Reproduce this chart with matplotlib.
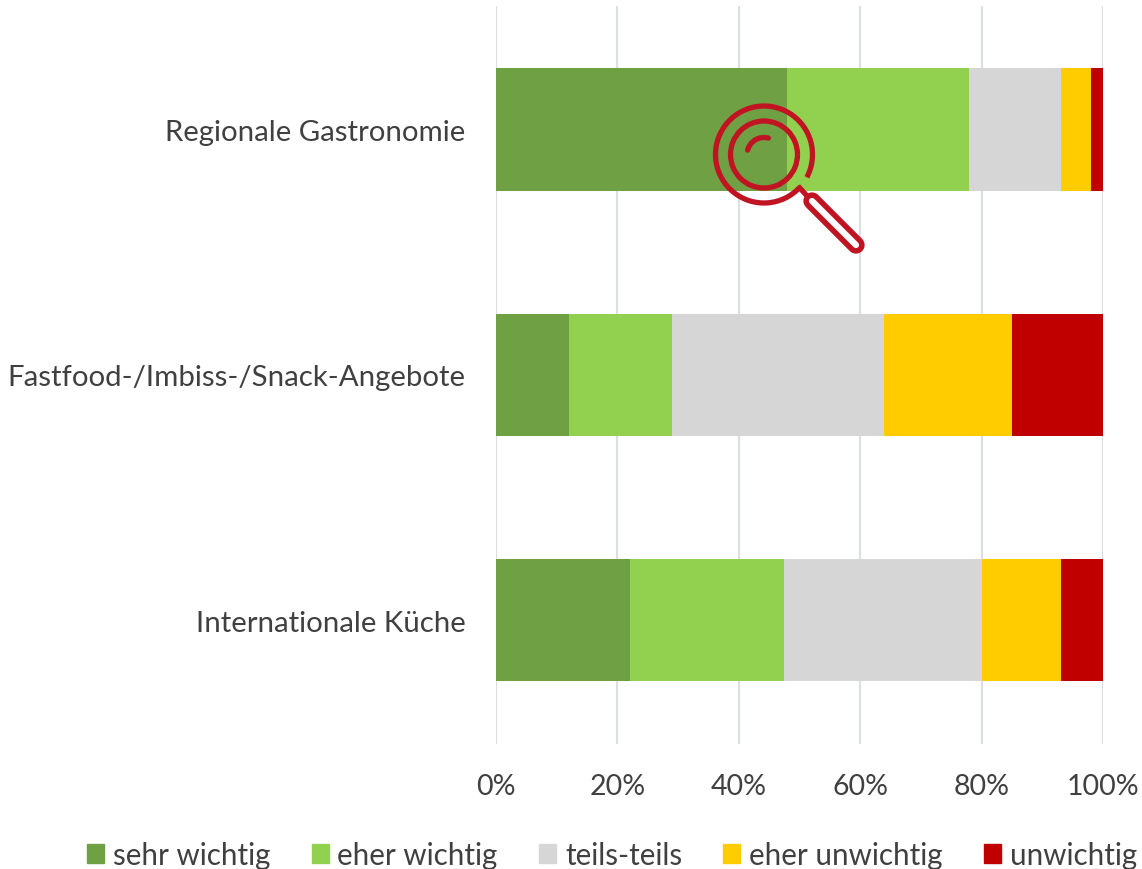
import matplotlib
matplotlib.use('Agg')
import matplotlib.pyplot as plt
from matplotlib.patches import Arc, Patch
from matplotlib.ticker import FuncFormatter

categories = ['Regionale Gastronomie', 'Fastfood-/Imbiss-/Snack-Angebote', 'Internationale Küche']
sehr_wichtig = [48, 12, 22]
eher_wichtig = [30, 17, 25.5]
teils_teils = [15, 35, 32.5]
eher_unwichtig = [5, 21, 13]
unwichtig = [2, 15, 7]
series = [sehr_wichtig, eher_wichtig, teils_teils, eher_unwichtig, unwichtig]
labels = ['sehr wichtig', 'eher wichtig', 'teils-teils', 'eher unwichtig', 'unwichtig']
colors = ['#70A044', '#92D050', '#D6D6D6', '#FFCC00', '#C00000']
ticks = [0, 20, 40, 60, 80, 100]

W, H = 1142, 870
TEXT = '#404040'
plt.rcParams['font.family'] = ['Lato', 'DejaVu Sans']

fig = plt.figure(figsize=(W / 100, H / 100), dpi=100)
ax = fig.add_axes([496 / W, 1 - 745 / H, 607 / W, 738 / H])

left = [0, 0, 0]
for vals, lab, col in zip(series, labels, colors):
    ax.barh(categories, vals, left=left, height=0.5, color=col, label=lab, zorder=3)
    left = [a + b for a, b in zip(left, vals)]

ax.set_xlim(0, 100)
ax.set_ylim(2.505, -0.5045)
ax.set_xticks(ticks)
ax.xaxis.set_major_formatter(FuncFormatter(lambda v, p: '%d%%' % v))
ax.grid(axis='x', color='#DDE0E0', linewidth=1.6, zorder=0)
ax.tick_params(axis='both', length=0, labelsize=20.5, labelcolor=TEXT)
ax.tick_params(axis='x', pad=21)
ax.tick_params(axis='y', pad=22, labelsize=21.2)
for s in ax.spines.values():
    s.set_visible(False)
ax.set_axisbelow(True)

handles = [Patch(color=c, label=l) for c, l in zip(colors, labels)]
fig.legend(handles=handles, loc='center', bbox_to_anchor=(612 / W, 1 - 856 / H), ncol=5,
           frameon=False, fontsize=21.3, labelcolor=TEXT, handlelength=0.575, handleheight=0.6,
           handletextpad=0.3, columnspacing=1.39, borderpad=0, borderaxespad=0)

# magnifier icon, drawn in pixel coordinates
icon = fig.add_axes([0, 0, 1, 1], facecolor='none')
icon.set_xlim(0, W)
icon.set_ylim(H, 0)
icon.axis('off')
RED = '#C11423'
lw = 3.8
cx, cy = 764, 155.5
# y axis is inverted, so arc angles run clockwise on screen
icon.add_patch(Arc((cx, cy), 97, 97, theta1=42, theta2=388, color=RED, lw=lw))
icon.add_patch(Arc((cx, cy), 67, 67, color=RED, lw=lw))
icon.add_patch(Arc((cx, cy), 34, 34, theta1=195, theta2=285, color=RED, lw=lw, capstyle='round'))
icon.plot([798, 808], [187, 198], color=RED, lw=lw, solid_capstyle='butt')
icon.plot([812, 856], [202, 246], color=RED, lw=12.5, solid_capstyle='round')
icon.plot([812, 856], [202, 246], color='white', lw=4.5, solid_capstyle='round')

fig.savefig('out.png', dpi=100)
